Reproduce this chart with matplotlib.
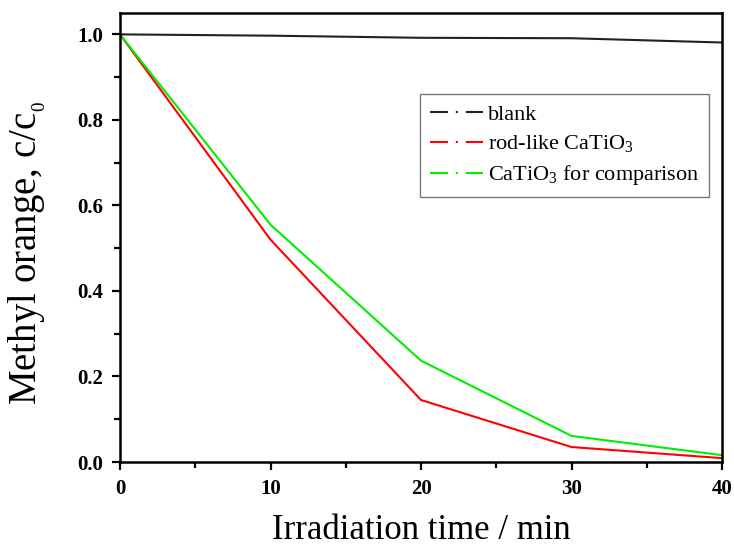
import matplotlib
matplotlib.use('Agg')
import matplotlib.pyplot as plt
from matplotlib.lines import Line2D
from matplotlib.ticker import MultipleLocator

plt.rcParams['font.family'] = 'Liberation Serif'
plt.rcParams['mathtext.fontset'] = 'custom'
plt.rcParams['mathtext.rm'] = 'Liberation Serif'

# Data
time = [0, 10, 20, 30, 40]
blank = [1.0, 0.997, 0.992, 0.991, 0.981]
rod_like = [1.0, 0.52, 0.145, 0.035, 0.009]
comparison = [1.0, 0.555, 0.237, 0.061, 0.016]

labels = ['blank', r'rod-like CaTiO$\mathregular{_3}$',
          r'CaTiO$\mathregular{_3}$ for comparison']
colors = ['#222222', '#ff0000', '#00ee00']

fig = plt.figure(figsize=(7.34, 5.47), dpi=100)
ax = fig.add_axes([120/734, 1-462/547, 602/734, 449/547])

for ys, c in zip([blank, rod_like, comparison], colors):
    ax.plot(time, ys, '-', color=c, lw=1.5)

ax.set_xlim(0, 40)
ax.set_ylim(0, 1.05)
ax.xaxis.set_major_locator(MultipleLocator(10))
ax.xaxis.set_minor_locator(MultipleLocator(5))
ax.yaxis.set_major_locator(MultipleLocator(0.2))
ax.yaxis.set_minor_locator(MultipleLocator(0.1))
ax.yaxis.set_major_formatter(plt.FormatStrFormatter('%.1f'))

for s in ax.spines.values():
    s.set_linewidth(1.8)
ax.tick_params(which='major', direction='out', length=6, width=1.6, labelsize=15, pad=6)
ax.tick_params(which='minor', direction='out', length=4, width=1.6)
for lab in ax.get_xticklabels() + ax.get_yticklabels():
    lab.set_fontweight('bold')

ax.set_xlabel('Irradiation time / min', fontsize=25)
ax.xaxis.set_label_coords(0.5, -0.172)
ax.xaxis.label.set_va('baseline')
ax.set_ylabel(r'Methyl orange, c/c$\mathregular{_{_0}}$', fontsize=28)
ax.yaxis.set_label_coords(-0.12, 0.465)

handles = [Line2D([], [], color=c, lw=1.5, dashes=(8.6, 3.8, 1.0, 3.8)) for c in colors]
leg = ax.legend(handles, labels, loc='upper left', bbox_to_anchor=(300/602, 1-81/449),
                fontsize=16, frameon=True, fancybox=False, handlelength=2.4,
                handletextpad=0.2, labelspacing=0.4, borderpad=0.45,
                borderaxespad=0)
leg.get_frame().set_edgecolor('#555555')
leg.get_frame().set_linewidth(1.0)

fig.savefig('out.png', dpi=100)
